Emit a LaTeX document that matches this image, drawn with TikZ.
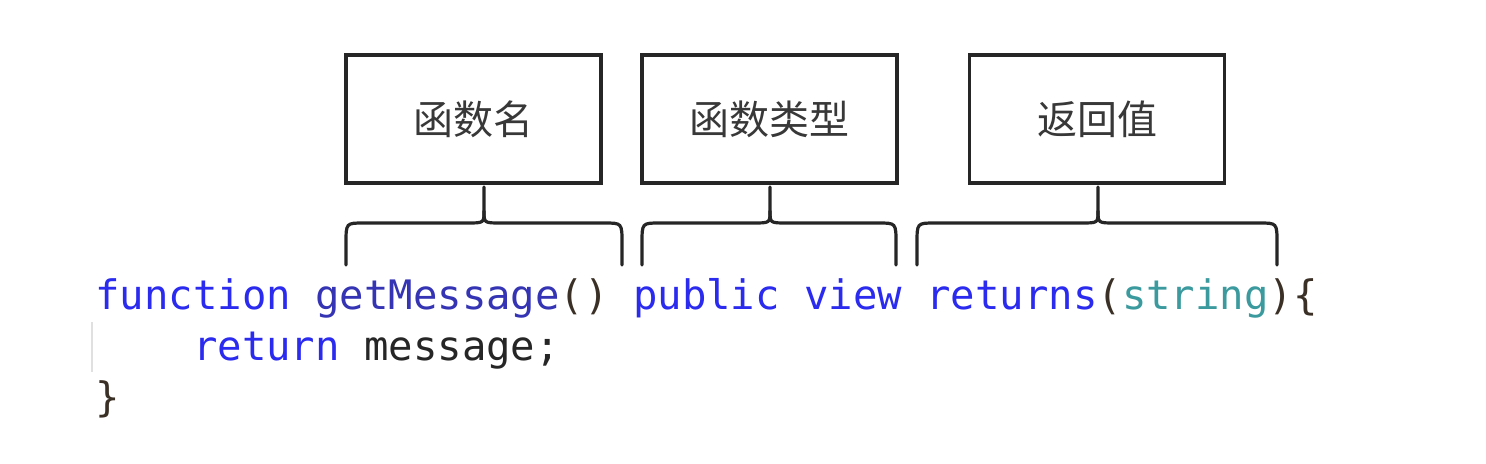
\documentclass[tikz,border=0pt]{standalone}
\usepackage{fontspec}
\newfontfamily\cjk{Noto Sans CJK SC}
\newfontfamily\codefont{DejaVu Sans Mono}
\definecolor{kwblue}{HTML}{2B2BF0}
\definecolor{fnblue}{HTML}{3434B4}
\definecolor{typeteal}{HTML}{3A9A9E}
\definecolor{punct}{HTML}{3A3026}
\definecolor{cjkgray}{HTML}{383838}
\tikzset{
  labelbox/.style={draw=black!85, line width=1.6pt, minimum width=127.5pt, minimum height=64pt, inner sep=0pt, font=\cjk\fontsize{20pt}{23pt}\selectfont, text=cjkgray},
  bracepath/.style={draw=black!85, line width=1.6pt, line cap=round},
  codeline/.style={anchor=base west, inner sep=0pt, font=\codefont\fontsize{20.3pt}{24pt}\selectfont}
}
\begin{document}
\begin{tikzpicture}[x=0.5pt,y=-0.5pt]
\useasboundingbox[fill=white] (0,0) rectangle (1486,464);
% boxes
\node[labelbox] (name) at (473.5,119) {函数名};
\node[labelbox] (type) at (769.5,119) {函数类型};
\node[labelbox] (ret) at (1097,119) {返回值};
% braces, each rising to the box above it
\foreach \xl/\xm/\xr/\b in {346/484/622/name, 642/770/896/type, 917/1098/1277/ret}{
  \coordinate (tip-\b) at (\xm,187);
  \draw[bracepath] (\xl,265) -- (\xl,243) .. controls (\xl,223) .. (\xl+18,223)
     -- (\xm-17,223) .. controls (\xm,223) .. (\xm,211) -- (tip-\b);
  \draw[bracepath] (\xr,265) -- (\xr,243) .. controls (\xr,223) .. (\xr-18,223)
     -- (\xm+17,223) .. controls (\xm,223) .. (\xm,211);
}
% indent guide
\draw[black!12, line width=1pt] (92,322) -- (92,372);
% code
\node[codeline] (l1) at (95,309) {\textcolor{kwblue}{function} \textcolor{fnblue}{getMessage}\textcolor{punct}{()} \textcolor{kwblue}{public view returns}\textcolor{punct}{(}\textcolor{typeteal}{string}\textcolor{punct}{)\{}};
\node[codeline] (l2) at (95,360) {\phantom{xxxx}\textcolor{kwblue}{return} \textcolor{black!85}{message;}};
\node[codeline] (l3) at (95,411) {\textcolor{punct}{\}}};
\end{tikzpicture}
\end{document}
